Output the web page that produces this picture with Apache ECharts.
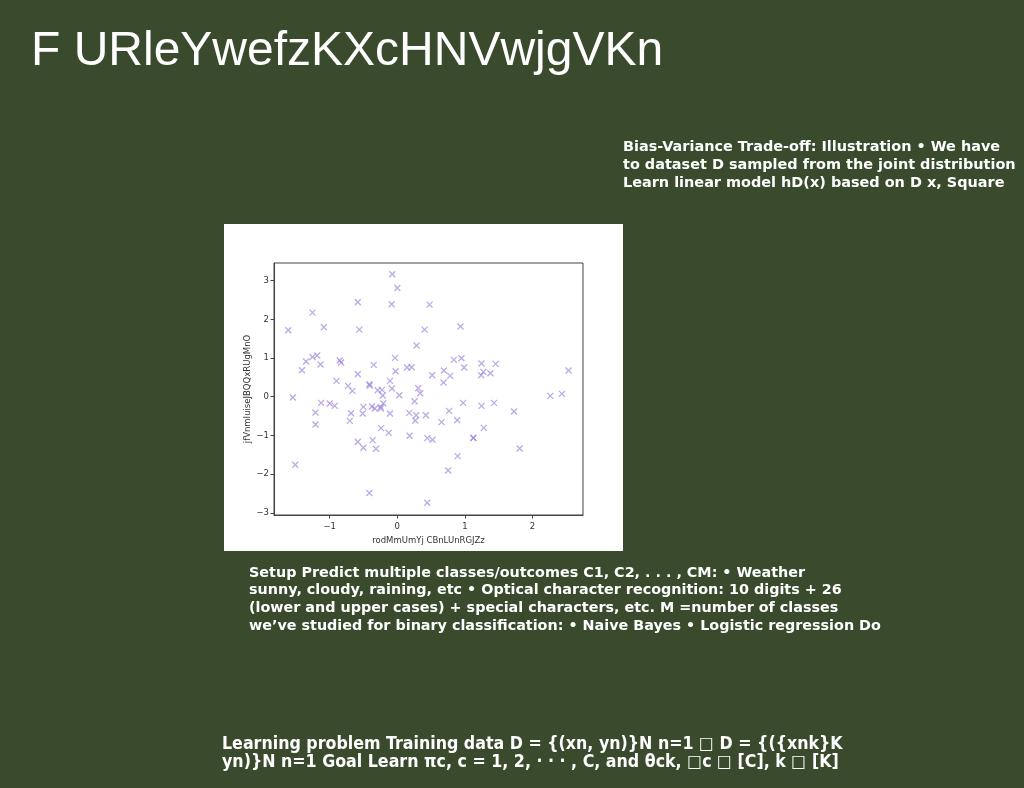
<!DOCTYPE html>
<html>
<head>
<meta charset="utf-8">
<script src="https://cdn.jsdelivr.net/npm/echarts@6/dist/echarts.min.js"></script>
<style>
html,body{margin:0;padding:0;background:#394b2c;}
#chart{width:1024px;height:788px;}
</style>
</head>
<body>
<div id="chart"></div>
<script>
const titleText = 'F URleYwefzKXcHNVwjgVKn';
const xAxisName = 'rodMmUmYj CBnLUnRGJZz';
const yAxisName = 'jfVnmIuiseJBQQxRUgMnO';
const xTicks = [-1, 0, 1, 2];
const yTicks = [-3, -2, -1, 0, 1, 2, 3];
const xValues = [-1.613,-1.545,-1.51,-1.41,-1.35,-1.254,-1.254,-1.185,-1.136,-1.21,-1.21,-1.126,-1.087,-0.999,-0.925,-0.9,-0.851,-0.831,-0.728,-0.664,-0.684,-0.703,-0.585,-0.561,-0.585,-0.585,-0.502,-0.512,-0.502,-0.413,-0.408,-0.349,-0.374,-0.334,-0.364,-0.315,-0.413,-0.29,-0.226,-0.246,-0.246,-0.216,-0.207,-0.241,-0.108,-0.108,-0.128,-0.084,-0.074,0.0,-0.079,-0.034,-0.025,0.03,0.143,0.212,0.177,0.182,0.256,0.285,0.31,0.34,0.28,0.266,0.403,0.423,0.477,0.443,0.521,0.516,0.443,0.654,0.689,0.684,0.782,0.767,0.753,0.836,0.885,0.89,0.935,0.949,0.989,0.974,1.122,1.127,1.24,1.245,1.274,1.245,1.279,1.377,1.456,1.431,1.727,1.81,2.263,2.435,2.533];
const yValues = [1.717,-0.02,-1.76,0.684,0.908,2.173,1.028,1.063,0.83,-0.409,-0.719,-0.16,1.794,-0.176,-0.237,0.409,0.934,0.882,0.28,0.15,-0.426,-0.624,2.44,1.734,0.581,-1.166,-0.262,-0.435,-1.321,0.323,0.288,0.822,-0.254,-0.306,-1.123,-1.347,-2.49,0.168,0.176,-0.262,-0.306,0.03,-0.176,-0.813,0.409,-0.435,-0.934,2.388,3.163,2.81,0.211,1.003,0.658,0.039,0.753,0.762,-0.417,-1.011,-0.116,1.321,0.219,0.09,-0.478,-0.615,1.734,-0.478,2.38,-1.071,-1.114,0.555,-2.74,-0.658,0.676,0.366,0.538,-0.366,-1.907,0.951,-0.607,-1.536,1.812,0.994,0.753,-0.16,-1.063,-1.068,0.555,0.856,0.641,-0.237,-0.805,0.607,0.848,-0.16,-0.383,-1.338,0.022,0.073,0.676];
const rightText = ['Bias-Variance Trade-off: Illustration \u2022 We have','to dataset D sampled from the joint distribution','Learn linear model hD(x) based on D x, Square'];
const middleText = ['Setup Predict multiple classes/outcomes C1, C2, . . . , CM: \u2022 Weather','sunny, cloudy, raining, etc \u2022 Optical character recognition: 10 digits + 26','(lower and upper cases) + special characters, etc. M =number of classes','we\u2019ve studied for binary classification: \u2022 Naive Bayes \u2022 Logistic regression Do'];
const bottomText = ['Learning problem Training data D = {(xn, yn)}N n=1 \u25a1 D = {({xnk}K','yn)}N n=1 Goal Learn \u03c0c, c = 1, 2, \u00b7 \u00b7 \u00b7 , C, and \u03b8ck, \u25a1c \u25a1 [C], k \u25a1 [K]'];

const points = xValues.map((x, i) => [x, yValues[i]]);
const minusFmt = v => String(v).replace('-', '\u2212');

// fit a font size so that the widest line matches a target pixel width
const ctx = document.createElement('canvas').getContext('2d');
function fitSize(lines, weight, family, targetWidth) {
  ctx.font = weight + ' 20px ' + family;
  let w = 0;
  lines.forEach(l => { w = Math.max(w, ctx.measureText(l).width); });
  return 20 * targetWidth / w;
}
const heavyFamily = '"DejaVu Sans", sans-serif';
const rightSize = fitSize(rightText, 'bold', heavyFamily, 393);
const middleSize = fitSize(middleText, 'bold', heavyFamily, 632);
const bottomFamily = '"DejaVu Sans Condensed", "DejaVu Sans", sans-serif';
const bottomSize = fitSize(bottomText, 'bold', bottomFamily, 621);

const chart = echarts.init(document.getElementById('chart'));
chart.setOption({
  backgroundColor: '#394b2c',
  animation: false,
  graphic: [
    {type:'rect', z:-10, shape:{x:224,y:224,width:399,height:327}, style:{fill:'#ffffff'}},
    {type:'text', left:31, top:28, style:{text:titleText, fill:'#ffffff', font:'48px "Liberation Sans", Arial, sans-serif'}},
    {type:'text', x:623, y:165, style:{text:rightText.join('\n'), fill:'#ffffff', font:'bold ' + rightSize.toFixed(2) + 'px ' + heavyFamily, lineHeight:18, verticalAlign:'middle'}},
    {type:'text', x:249, y:599.5, style:{text:middleText.join('\n'), fill:'#ffffff', font:'bold ' + middleSize.toFixed(2) + 'px ' + heavyFamily, lineHeight:17.7, verticalAlign:'middle'}},
    {type:'text', x:222, y:753, style:{text:bottomText.join('\n'), fill:'#ffffff', font:'bold ' + bottomSize.toFixed(2) + 'px ' + bottomFamily, lineHeight:18, verticalAlign:'middle'}}
  ],
  grid: {left:274, top:263, width:309, height:252, show:true, borderColor:'#444', borderWidth:1, backgroundColor:'#fff'},
  xAxis: {
    type:'value', min:-1.824, max:2.747,
    name:xAxisName, nameLocation:'middle', nameGap:21,
    nameTextStyle:{fontFamily:'DejaVu Sans', fontSize:8.5, color:'#333'},
    axisLine:{show:true, onZero:false, lineStyle:{color:'#444'}},
    axisTick:{show:true, inside:false, length:3.5, lineStyle:{color:'#444'}, customValues:xTicks},
    axisLabel:{fontFamily:'DejaVu Sans', fontSize:8.5, color:'#333', margin:7, customValues:xTicks, formatter:minusFmt},
    splitLine:{show:false}
  },
  yAxis: {
    type:'value', min:-3.057, max:3.455,
    name:yAxisName, nameLocation:'middle', nameGap:22, nameRotate:90,
    nameTextStyle:{fontFamily:'DejaVu Sans', fontSize:8.5, color:'#333'},
    axisLine:{show:true, onZero:false, lineStyle:{color:'#444'}},
    axisTick:{show:true, inside:false, length:3.5, lineStyle:{color:'#444'}, customValues:yTicks},
    axisLabel:{fontFamily:'DejaVu Sans', fontSize:8.5, color:'#333', margin:5, customValues:yTicks, formatter:minusFmt},
    splitLine:{show:false}
  },
  series: [{
    type:'scatter',
    data: points,
    symbol:'path://M0,0L10,10M0,10L10,0',
    symbolSize:6,
    itemStyle:{color:'none', borderColor:'rgba(150,120,215,0.8)', borderWidth:1.3}
  }]
});
</script>
</body>
</html>
